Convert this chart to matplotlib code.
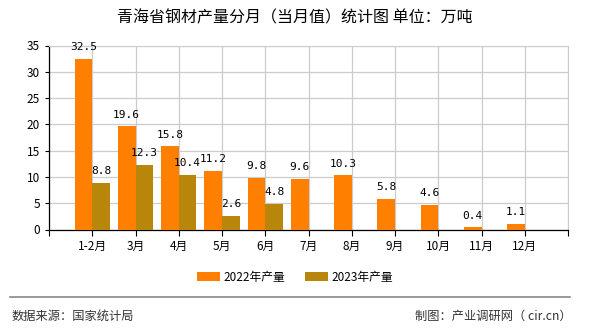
import matplotlib.pyplot as plt
import numpy as np

plt.rcParams['font.family'] = ['Noto Sans CJK SC', 'DejaVu Sans']

# ---- data ----
months = ['1-2月', '3月', '4月', '5月', '6月', '7月', '8月', '9月', '10月', '11月', '12月']
prod_2022 = [32.5, 19.6, 15.8, 11.2, 9.8, 9.6, 10.3, 5.8, 4.6, 0.4, 1.1]
prod_2023 = [8.8, 12.3, 10.4, 2.6, 4.8]

c22 = '#ff8000'
c23 = '#b8860b'

fig = plt.figure(figsize=(5.9, 3.3), dpi=100)
ax = fig.add_axes([49 / 590, 1 - 229.5 / 330, (568 - 49) / 590, (229.5 - 45.5) / 330])

x = np.arange(len(months))
w = 0.41
x23 = x[:len(prod_2023)]
b22 = ax.bar(x - w / 2, prod_2022, width=w, color=c22, zorder=3, label='2022年产量')
b23 = ax.bar(x23 + w / 2, prod_2023, width=w, color=c23, zorder=3, label='2023年产量')

for xi, v in zip(x - w / 2, prod_2022):
    ax.text(xi, v + 1.3, f'{v}', ha='center', va='bottom', fontsize=8,
            family='DejaVu Sans Mono', zorder=4)
for xi, v in zip(x23 + w / 2, prod_2023):
    ax.text(xi, v + 1.3, f'{v}', ha='center', va='bottom', fontsize=8,
            family='DejaVu Sans Mono', zorder=4)

ax.set_xlim(-1, len(months))
ax.set_ylim(0, 35)
ax.set_yticks(range(0, 36, 5))
ax.set_xticks(range(-1, len(months) + 1))
ax.set_xticklabels([''] + months + [''], fontsize=8.5)
ax.tick_params(axis='y', labelsize=8.5, length=3, width=0.8)
ax.tick_params(axis='x', length=4, width=0.8)
ax.grid(True, color='#cccccc', linewidth=0.9, zorder=0)

ax.spines['top'].set_color('#cccccc')
ax.spines['right'].set_color('#cccccc')
ax.spines['left'].set_linewidth(0.9)
ax.spines['bottom'].set_linewidth(0.9)

fig.text(0.5, 1 - 18 / 330, '青海省钢材产量分月（当月值）统计图 单位：万吨',
         ha='center', va='center', fontsize=11.5)

fig.legend(handles=[b22, b23], loc='center', bbox_to_anchor=(0.5, 1 - 277 / 330),
           ncol=2, frameon=False, fontsize=8.5, handlelength=2.0, handleheight=0.8,
           columnspacing=1.6, handletextpad=0.3)

fig.add_artist(plt.Line2D([10 / 590, 570 / 590], [1 - 297 / 330] * 2,
                          color='#888888', linewidth=1.2))
fig.text(12 / 590, 1 - 316 / 330, '数据来源：国家统计局', ha='left', va='center',
         fontsize=8.8, color='#333333')
fig.text(572 / 590, 1 - 316 / 330, '制图：产业调研网（ cir.cn）', ha='right', va='center',
         fontsize=8.8, color='#333333')

fig.savefig('out.png', dpi=100)
